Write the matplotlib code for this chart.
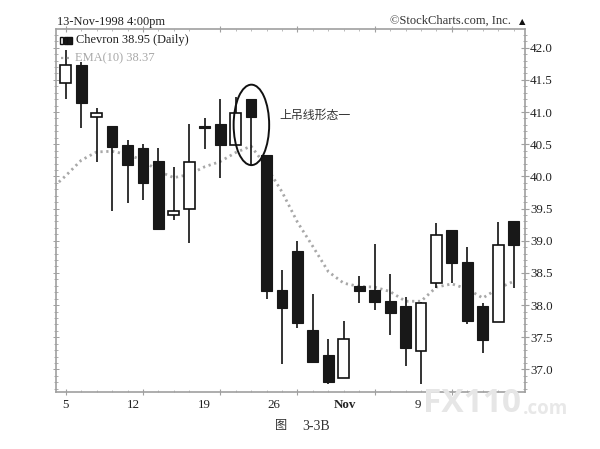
import numpy as np
import matplotlib
matplotlib.use("Agg")
import matplotlib.pyplot as plt
from matplotlib.patches import Ellipse, Rectangle

SERIF = ['Liberation Serif', 'DejaVu Serif']
CJK = ['Noto Sans CJK SC', 'DejaVu Sans']

highs = [41.96,41.78,41.06,40.78,40.57,40.51,40.44,40.14,40.81,40.91,41.20,41.24,41.20,40.34,38.54,38.99,38.17,37.48,37.75,38.46,38.95,38.49,38.12,38.05,39.27,39.17,38.90,38.04,39.29,39.31]
body_tops = [41.73,41.73,40.98,40.78,40.49,40.44,40.24,39.46,40.23,40.79,40.81,40.98,41.20,40.34,38.24,38.84,37.62,37.22,37.47,38.30,38.24,38.07,37.99,38.04,39.09,39.17,38.67,37.99,38.94,39.31]
body_bottoms = [41.45,41.14,40.92,40.45,40.17,39.90,39.19,39.40,39.50,40.75,40.48,40.48,40.92,38.22,37.95,37.72,37.11,36.81,36.86,38.22,38.05,37.88,37.34,37.29,38.34,38.65,37.76,37.46,37.74,38.93]
lows = [41.21,40.75,40.22,39.47,39.59,39.64,39.19,39.32,38.97,40.42,39.97,40.48,40.16,38.10,37.08,37.65,37.11,36.78,36.86,38.03,37.93,37.53,37.06,36.77,38.26,38.34,37.70,37.26,37.74,38.27]
is_up = [1,0,1,0,0,0,0,1,1,0,0,1,0,0,0,0,0,0,1,0,0,0,0,1,1,0,0,0,1,0]
ema = [39.79,40.01,40.25,40.38,40.39,40.34,40.25,40.08,39.98,40.03,40.15,40.23,40.37,40.47,40.15,39.76,39.29,38.91,38.52,38.34,38.29,38.28,38.21,38.06,38.06,38.28,38.33,38.25,38.11,38.26,38.37]
y_ticks = [37.0,37.5,38.0,38.5,39.0,39.5,40.0,40.5,41.0,41.5,42.0]
x_label_pos = [0.0,4.4,9.0,13.5,18.1,22.8]
x_labels = ['5','12','19','26','Nov','9']
x_major_pos = [0,5,10,15,20,25]

W, H = 600, 449
fig = plt.figure(figsize=(W/100, H/100), dpi=100)
L, R, T, B = 56, 524.5, 29, 392
ax = fig.add_axes([L/W, 1-B/H, (R-L)/W, (B-T)/H])
ax.set_xlim(-0.63, 29.7)
ax.set_ylim(36.65, 42.29)

GRID = '#a0a0a0'
for s in ('left', 'right', 'top', 'bottom'):
    ax.spines[s].set_color(GRID)
    ax.spines[s].set_linewidth(1.2)

xs = np.arange(len(highs))
ax.plot(np.arange(-1, len(ema)-1), ema, color='#a8a8a8', lw=2.0, ls=(0, (0.8, 1.3)), zorder=1)

bw = 0.70
for i in xs:
    ax.vlines(i, lows[i], highs[i], color='#111111', lw=1.2, zorder=2)
    h = body_tops[i]-body_bottoms[i]
    if is_up[i]:
        ax.add_patch(Rectangle((i-bw/2, body_bottoms[i]), bw, h, fc='white', ec='#111111', lw=1.2, zorder=3))
    else:
        ax.add_patch(Rectangle((i-bw/2, body_bottoms[i]), bw, h, fc='#181818', ec='#181818', lw=0.8, zorder=3))

ax.add_patch(Ellipse((12.02, 40.8), 2.3, 1.25, fc='none', ec='#111111', lw=1.4, zorder=4))
ax.text(13.8, 40.95, '上吊线形态一', family=CJK, fontsize=8.6, color='#333333', va='center', ha='left')

ax.yaxis.tick_right()
ax.set_yticks(y_ticks)
ax.set_yticklabels([f'{v:.1f}' for v in y_ticks], family=SERIF, fontsize=9.4, color='#222222')
ax.tick_params(axis='y', which='major', direction='inout', length=6, width=0.8, color=GRID, pad=1)
ax.set_yticks(np.arange(36.7, 42.29, 0.1), minor=True)
ax.tick_params(axis='y', which='minor', direction='inout', length=3, width=0.6, color=GRID, left=True, right=True)
ax.set_xticks(x_label_pos)
ax.set_xticklabels(x_labels, family=SERIF, fontsize=9.4, color='#222222')
ax.get_xticklabels()[4].set_fontweight('bold')
ax.tick_params(axis='x', which='major', length=0, pad=5)
ax.set_xticks(np.arange(0, 30), minor=True)
ax.tick_params(axis='x', which='minor', direction='in', length=1.2, width=0.5, color=GRID, top=True, bottom=True)
xf = ax.get_xaxis_transform()
for yy in (0, 1):
    ax.plot(x_major_pos, [yy]*len(x_major_pos), ls='none', marker='|', ms=5, mew=0.8, color=GRID, transform=xf, clip_on=False)
for yv in y_ticks:
    ax.plot([0], [yv], ls='none', marker='_', ms=4, mew=0.7, color=GRID, transform=ax.get_yaxis_transform(), clip_on=False)

fig.text(57/W, 1-22.5/H, '13-Nov-1998 4:00pm', family=SERIF, fontsize=8.95, color='#222222', va='center')
fig.text(511/W, 1-20.5/H, '©StockCharts.com, Inc.', family=SERIF, fontsize=9.0, color='#333333', va='center', ha='right')
fig.text(522/W, 1-22/H, '▲', family='DejaVu Sans', fontsize=6, color='#111111', va='center', ha='center')

ta = ax.transAxes
ax.text(20.5/468.5, 1-(40-29)/363, 'Chevron 38.95 (Daily)', family=SERIF, fontsize=8.95, color='#222222', va='center', transform=ta)
ax.text(19/468.5, 1-(58-29)/363, 'EMA(10) 38.37', family=SERIF, fontsize=9.0, color='#a8a8a8', va='center', transform=ta)
ax.plot([0.0105, 0.034], [1-(58-29)/363]*2, color='#a8a8a8', lw=1.6, ls=(0, (1, 1.6)), transform=ta)
for x0, w, fc in [(0.0095, 0.0060, 'white'), (0.0175, 0.0050, '#181818'), (0.0245, 0.0090, '#181818')]:
    ax.add_patch(Rectangle((x0, 0.960), w, 0.019, fc=fc, ec='#111111', lw=1.0, transform=ta, zorder=5))

fig.text(281/W, 1-426/H, '图', family=CJK, fontsize=8.8, color='#333333', va='center', ha='center')
fig.text(316.5/W, 1-427/H, '3-3B', family=SERIF, fontsize=10, color='#333333', va='center', ha='center')
fig.text(423/W, 1-403/H, 'FX110', family='Open Sans', weight='bold', fontsize=24, color='#e6e6e6', va='center', ha='left', zorder=10)
fig.text(523/W, 1-409/H, '.com', family='Open Sans', weight='bold', fontsize=13.5, color='#e8e8e8', va='center', ha='left', zorder=10)

fig.savefig('out.png', dpi=100)
